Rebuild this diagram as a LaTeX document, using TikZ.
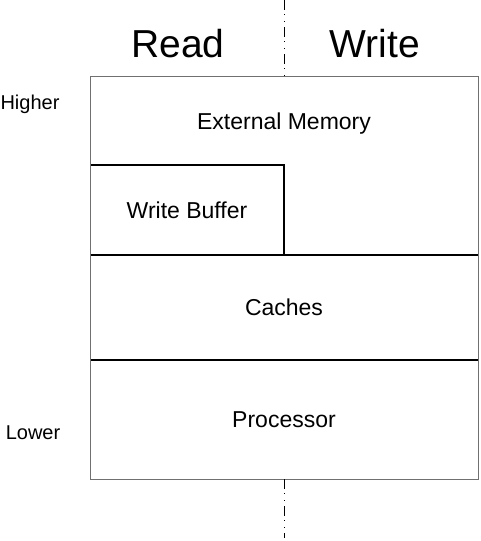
\documentclass[tikz,border=0pt]{standalone}
\usepackage{fontspec}
\setmainfont{Liberation Sans}
\usetikzlibrary{positioning}
\tikzset{
	layer/.style={
		rectangle,
		align=center,
		inner sep=0pt,
		outer sep=0pt,
		minimum width=388pt,
		font=\fontsize{23}{27}\selectfont
	},
	frame/.style={draw=black!56, line width=1pt},
	sep/.style={draw=black, line width=1.2pt},
	axisline/.style={draw=black, line width=0.9pt, dash pattern=on 10pt off 4pt on 1pt off 6pt on 1pt off 5pt},
	side/.style={font=\fontsize{20}{23}\selectfont},
	head/.style={font=\fontsize{39}{42}\selectfont}
}
\begin{document}
\begin{tikzpicture}[x=1pt,y=-1pt]
		\useasboundingbox (0,0) rectangle (480,541);
		\draw node[layer, minimum height=119pt] at (284,419.5)(Proc){Processor};
		\draw node[layer, minimum height=105pt, above=0pt of Proc](Cache){Caches};
		\draw node[layer, minimum width=194pt, minimum height=90pt, above left=0pt of Cache.north](Buf){Write Buffer};
		\draw node[layer, minimum height=89pt, text height=23pt, above=90pt of Cache](Mem){External Memory};
		
		\draw node[head] at (178,44)(Read){Read};
		\draw node[head] at (375,44)(Write){Write};
		\draw node[side] at (30,104)(Higher){Higher};
		\draw node[side] at (33,433)(Lower){Lower};
		
		\coordinate (AxTop) at (284,0);
		\coordinate (AxBot) at (284,538);
		
		\draw[sep] (Buf.north west) -- (Buf.north east) -- (Buf.south east);
		\draw[sep] (Cache.north west) -- (Cache.north east);
		\draw[sep] (Proc.north west) -- (Proc.north east);
		\draw[frame] (Mem.north west) rectangle (Proc.south east);
		\draw[axisline] (AxTop) -- (Mem.north);
		\draw[axisline] (Proc.south) -- (AxBot);
	\end{tikzpicture}
\end{document}
